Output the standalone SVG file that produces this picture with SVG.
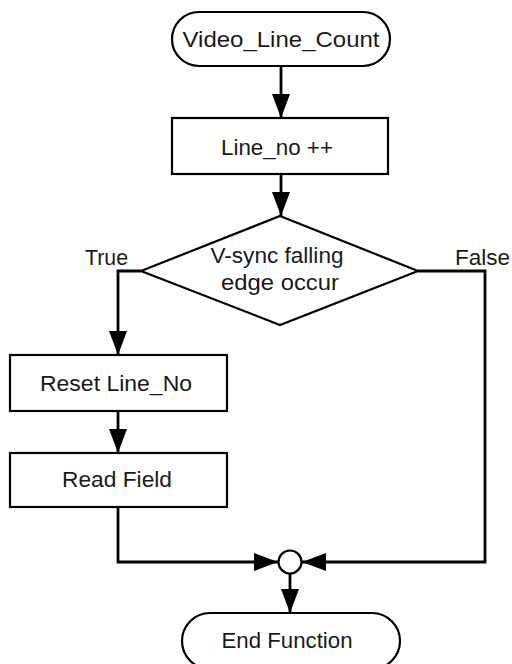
<svg xmlns="http://www.w3.org/2000/svg" width="512" height="664" viewBox="0 0 512 664">
  <style>
    .shape { fill: #ffffff; stroke: #000000; stroke-width: 2.2; }
    .wire { fill: none; stroke: #000000; stroke-width: 2.8; }
    .label { font-family: "Liberation Sans", Arial, sans-serif; font-size: 22.5px; fill: #1a1a1a; text-anchor: middle; }
    .side { font-family: "Liberation Sans", Arial, sans-serif; font-size: 22.5px; fill: #1a1a1a; }
  </style>
  <defs>
    <marker id="arrow" viewBox="0 0 24 18" refX="24" refY="9" markerWidth="24" markerHeight="18" markerUnits="userSpaceOnUse" orient="auto">
      <path d="M0,0 L24,9 L0,18 Z" fill="#000000"/>
    </marker>
  </defs>

  <rect width="512" height="664" fill="#ffffff"/>

  <!-- connectors -->
  <g id="connectors">
    <line class="wire" x1="281" y1="66" x2="281" y2="118" marker-end="url(#arrow)"/>
    <line class="wire" x1="281" y1="174" x2="281" y2="216" marker-end="url(#arrow)"/>
    <polyline class="wire" points="141,271 118,271 118,355" marker-end="url(#arrow)"/>
    <polyline class="wire" points="418,271 485,271 485,562 302,562" marker-end="url(#arrow)"/>
    <line class="wire" x1="118" y1="411" x2="118" y2="453" marker-end="url(#arrow)"/>
    <polyline class="wire" points="118,507 118,562 278,562" marker-end="url(#arrow)"/>
    <line class="wire" x1="290" y1="573" x2="290" y2="613" marker-end="url(#arrow)"/>
  </g>

  <!-- nodes -->
  <g id="start">
    <rect class="shape" x="172" y="12" width="218" height="54" rx="27" ry="27"/>
    <text class="label" x="281" y="47" textLength="197" lengthAdjust="spacingAndGlyphs">Video_Line_Count</text>
  </g>

  <g id="line-inc">
    <rect class="shape" x="172" y="118" width="216" height="56"/>
    <text class="label" x="277" y="155" textLength="112" lengthAdjust="spacingAndGlyphs">Line_no ++</text>
  </g>

  <g id="vsync-check">
    <polygon class="shape" points="280,216 418,271 280,325 141,271"/>
    <text class="label" x="277" y="263" textLength="133" lengthAdjust="spacingAndGlyphs">V-sync falling</text>
    <text class="label" x="280" y="290" textLength="118" lengthAdjust="spacingAndGlyphs">edge occur</text>
  </g>

  <g id="true-label">
    <text class="side" x="85" y="265" textLength="43" lengthAdjust="spacingAndGlyphs">True</text>
  </g>
  <g id="false-label">
    <text class="side" x="455" y="265" textLength="55" lengthAdjust="spacingAndGlyphs">False</text>
  </g>

  <g id="reset-line">
    <rect class="shape" x="10" y="355" width="217" height="56"/>
    <text class="label" x="116" y="391" textLength="152" lengthAdjust="spacingAndGlyphs">Reset Line_No</text>
  </g>

  <g id="read-field">
    <rect class="shape" x="10" y="453" width="217" height="54"/>
    <text class="label" x="117" y="487" textLength="110" lengthAdjust="spacingAndGlyphs">Read Field</text>
  </g>

  <g id="join">
    <circle class="shape" cx="290" cy="562" r="11.5"/>
  </g>

  <g id="end">
    <rect class="shape" x="182" y="613" width="218" height="56" rx="28" ry="28"/>
    <text class="label" x="287" y="648" textLength="131" lengthAdjust="spacingAndGlyphs">End Function</text>
  </g>
</svg>
